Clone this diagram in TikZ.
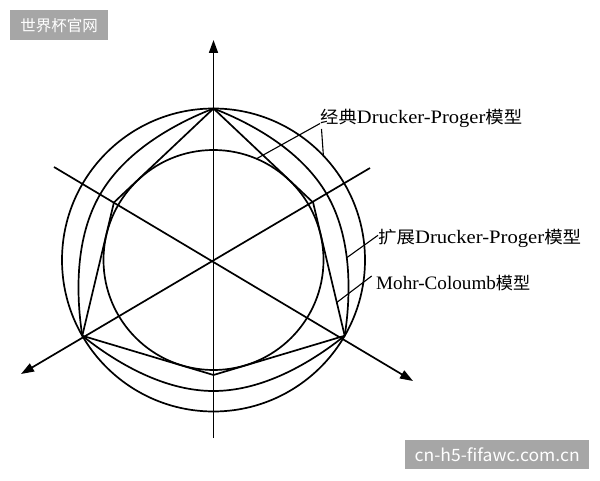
\documentclass[tikz,border=0pt]{standalone}
\usepackage{fontspec}
\setmainfont{Liberation Serif}
\newfontfamily\cjk{Noto Sans CJK SC}
\usetikzlibrary{calc,arrows.meta}
\definecolor{wmgray}{RGB}{166,166,166}
\newcommand\cjtxt[1]{{\cjk\fontsize{17}{17}\selectfont #1}}
\begin{document}
\begin{tikzpicture}[x=1pt,y=1pt,
  curve/.style={line width=1.7pt},
  axisline/.style={line width=1.7pt},
  arrowaxis/.style={axisline,-{Triangle[length=13pt,width=9pt]}},
  leader/.style={line width=1.1pt},
  lbl/.style={inner sep=0pt,anchor=base west,font=\fontsize{19}{19}\selectfont},
  wmbox/.style={fill=wmgray,text=white,inner sep=0pt,anchor=north west}]
\useasboundingbox (0,0) rectangle (600,480);
\fill[white] (0,0) rectangle (600,480);
\coordinate (O) at (213.5,220);
% vertices
\coordinate (V1) at ($(O)+(90:151.5)$);
\coordinate (V2) at ($(O)+(210:151.5)$);
\coordinate (V3) at ($(O)+(330:151.5)$);
\coordinate (W1) at ($(O)+(30:115)$);
\coordinate (W2) at ($(O)+(150:115)$);
\coordinate (W3) at ($(O)+(270:115)$);
% axes
\coordinate (ytop) at (213.5,440);
\coordinate (ybot) at (213.5,42);
\coordinate (aul) at (54,313);
\coordinate (alr) at (413,99);
\coordinate (bur) at (370,312);
\coordinate (bll) at (21,106);
\draw[arrowaxis] (ybot) -- (ytop);
\draw[arrowaxis] (aul) -- (alr);
\draw[arrowaxis] (bur) -- (bll);
% classic DP circles
\draw[curve] (O) circle[radius=151.5];
\draw[curve] (O) circle[radius=110];
% Mohr-Coulomb hexagon
\draw[curve,line join=round] (V1) -- (W1) -- (V3) -- (W3) -- (V2) -- (W2) -- cycle;
% extended DP curve
\begin{scope}[shift={(O)}]
\foreach \m in {270,30,150}{
  \draw[curve] plot[domain=-60:60,samples=61] ({\m+\x}:{131+20.5*abs(\x/60)^3});
}
\end{scope}
% labels
\node[lbl] (lab1) at (320,356.5) {\resizebox{202pt}{\height}{\cjtxt{经典}Drucker-Proger\cjtxt{模型}}};
\node[lbl] (lab2) at (378,236.7) {\resizebox{203pt}{\height}{\cjtxt{扩展}Drucker-Proger\cjtxt{模型}}};
\node[lbl] (lab3) at (376,191) {\resizebox{154pt}{\height}{Mohr-Coloumb\cjtxt{模型}}};
\coordinate (p1) at ($(O)+(67:110)$);
\coordinate (p2) at ($(O)+(43.5:151.5)$);
\coordinate (p3) at ($(O)+(1:133.3)$);
\coordinate (p4) at ($(W1)!0.75!(V3)$);
\draw[leader] (lab1.base west) -- (p1);
\draw[leader] ($(lab1.base west)+(1.5,-5.5)$) -- (p2);
\draw[leader] ($(lab2.base west)+(0,8)$) -- (p3);
\draw[leader] ($(lab3.base west)+(-4.3,13)$) -- (p4);
% watermarks
\node[wmbox,minimum width=98pt,minimum height=30pt] (wm1) at (10,470)
  {\cjk\fontsize{15.5}{15.5}\selectfont 世界杯官网};
\node[wmbox,minimum width=184pt,minimum height=29pt] (wm2) at (405,40)
  {\resizebox{165pt}{\height}{\cjk\fontsize{17}{17}\selectfont cn-h5-fifawc.com.cn}};
\end{tikzpicture}
\end{document}
